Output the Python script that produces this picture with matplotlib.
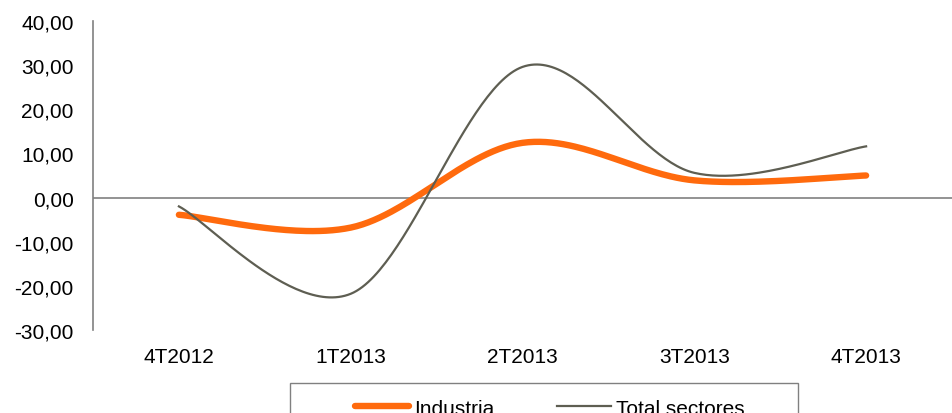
import numpy as np
import matplotlib
matplotlib.use("Agg")
import matplotlib.pyplot as plt
from matplotlib.patches import Rectangle
from matplotlib.ticker import FuncFormatter

categories = ["4T2012", "1T2013", "2T2013", "3T2013", "4T2013"]
industria = [-3.9, -6.8, 12.4, 3.9, 5.0]
total_sectores = [-2.0, -21.8, 29.6, 5.6, 11.6]

plt.rcParams['font.family'] = ['Liberation Sans', 'DejaVu Sans']


def smooth(xs, ys, n=60):
    xs = np.asarray(xs, float)
    ys = np.asarray(ys, float)
    P = np.column_stack([xs, ys])
    Pext = np.vstack([P[0], P, P[-1]])
    out = []
    for i in range(len(P) - 1):
        p0, p1, p2, p3 = Pext[i], Pext[i + 1], Pext[i + 2], Pext[i + 3]
        c1 = p1 + (p2 - p0) / 6.0
        c2 = p2 - (p3 - p1) / 6.0
        t = np.linspace(0, 1, n)[:, None]
        seg = ((1 - t) ** 3) * p1 + 3 * ((1 - t) ** 2) * t * c1 + 3 * (1 - t) * t ** 2 * c2 + t ** 3 * p2
        out.append(seg if i == 0 else seg[1:])
    seg = np.vstack(out)
    return seg[:, 0], seg[:, 1]


fig = plt.figure(figsize=(9.52, 4.14), dpi=100)
ax = fig.add_axes([93 / 952, 1 - 331 / 414, 1 - 93 / 952, (331 - 22) / 414])

x = np.arange(len(categories))
sx, sy = smooth(x, industria)
ax.plot(sx, sy, color="#FF6A0D", lw=4.6, solid_capstyle="round", label="Industria", zorder=3)
tx, ty = smooth(x, total_sectores)
ax.plot(tx, ty, color="#5E5E52", lw=1.6, label="Total sectores", zorder=4)

ax.set_xlim(-0.5, len(categories) - 0.5)
ax.set_ylim(-30, 40)
ax.set_yticks(np.arange(-30, 41, 10))
ax.yaxis.set_major_formatter(FuncFormatter(lambda v, p: f"{v:.2f}".replace(".", ",")))
ax.set_xticks(x)
ax.set_xticklabels(categories)
ax.tick_params(axis="both", length=0, labelsize=15, colors="#000000")
for s in ["top", "right", "bottom"]:
    ax.spines[s].set_visible(False)
ax.spines["left"].set_color("#808080")
ax.spines["left"].set_linewidth(1.2)
ax.axhline(0, color="#808080", lw=1.2, zorder=2)
ax.tick_params(axis="x", pad=12)
ax.tick_params(axis="y", pad=14)

# legend box
fig.patches.append(Rectangle((290 / 952, -0.1), (798 - 290) / 952, 0.1 + (414 - 384) / 414,
                             transform=fig.transFigure, fill=False, edgecolor="#808080", lw=1.0))
leg = fig.legend(loc="center", bbox_to_anchor=(550 / 952, 0.012), ncol=2, frameon=False,
                 fontsize=15, handlelength=2.6, handletextpad=0.25, columnspacing=3.0,
                 borderaxespad=0)

fig.savefig("out.png", dpi=100)
